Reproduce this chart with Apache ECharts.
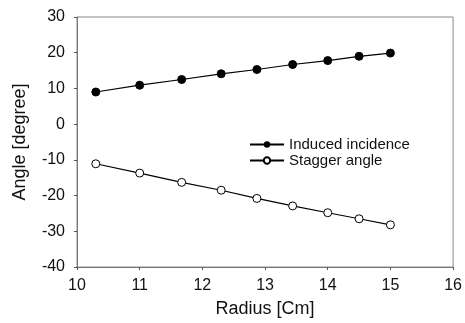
<!DOCTYPE html>
<html><head><meta charset="utf-8">
<script src="https://cdn.jsdelivr.net/npm/echarts@6/dist/echarts.min.js"></script>
<style>html,body{margin:0;padding:0;background:#fff}#c{width:465px;height:323px}</style>
</head><body><div id="c"></div>
<script>
const radius = [10.3, 11.0, 11.67, 12.3, 12.87, 13.44, 14.0, 14.5, 15.0];
const inducedIncidence = [9.0, 10.9, 12.5, 14.1, 15.3, 16.7, 17.8, 19.0, 19.9];
const staggerAngle = [-11.1, -13.7, -16.3, -18.5, -20.8, -22.9, -24.8, -26.5, -28.2];
const seriesNames = ['Induced incidence', 'Stagger angle'];

const font = 'Liberation Sans, Arial, sans-serif';
const chart = echarts.init(document.getElementById('c'));
const axisCommon = {
  axisLine: {show: true, onZero: false, lineStyle: {color: '#777', width: 1}},
  axisTick: {show: true, inside: false, length: 3, lineStyle: {color: '#555'}},
  splitLine: {show: false},
  axisLabel: {color: '#111', fontFamily: font, fontSize: 16},
  nameTextStyle: {color: '#111', fontFamily: font, fontSize: 18}
};
chart.setOption({
  animation: false,
  grid: {left: 77, right: 10, top: 17, bottom: 55, show: true, borderColor: '#888', borderWidth: 1},
  legend: {
    left: 244, top: 132, orient: 'vertical', itemGap: 1, itemWidth: 34, itemHeight: 8,
    textStyle: {fontFamily: font, fontSize: 15, color: '#111'},
    data: seriesNames
  },
  xAxis: Object.assign({}, axisCommon, {
    type: 'value', min: 10, max: 16, interval: 1,
    name: 'Radius [Cm]', nameLocation: 'middle', nameGap: 33,
    axisLabel: Object.assign({}, axisCommon.axisLabel, {margin: 11})
  }),
  yAxis: Object.assign({}, axisCommon, {
    type: 'value', min: -40, max: 30, interval: 10,
    name: 'Angle [degree]', nameLocation: 'middle', nameGap: 48,
    axisLabel: Object.assign({}, axisCommon.axisLabel, {margin: 12})
  }),
  series: [
    {
      name: seriesNames[0], type: 'line',
      data: radius.map((r, i) => [r, inducedIncidence[i]]),
      symbol: 'circle', symbolSize: 8,
      lineStyle: {color: '#000', width: 1.2},
      itemStyle: {color: '#000', borderColor: '#000'}
    },
    {
      name: seriesNames[1], type: 'line',
      data: radius.map((r, i) => [r, staggerAngle[i]]),
      symbol: 'circle', symbolSize: 8,
      lineStyle: {color: '#000', width: 1.2},
      itemStyle: {color: '#fff', borderColor: '#000', borderWidth: 1}
    }
  ]
});
</script></body></html>
